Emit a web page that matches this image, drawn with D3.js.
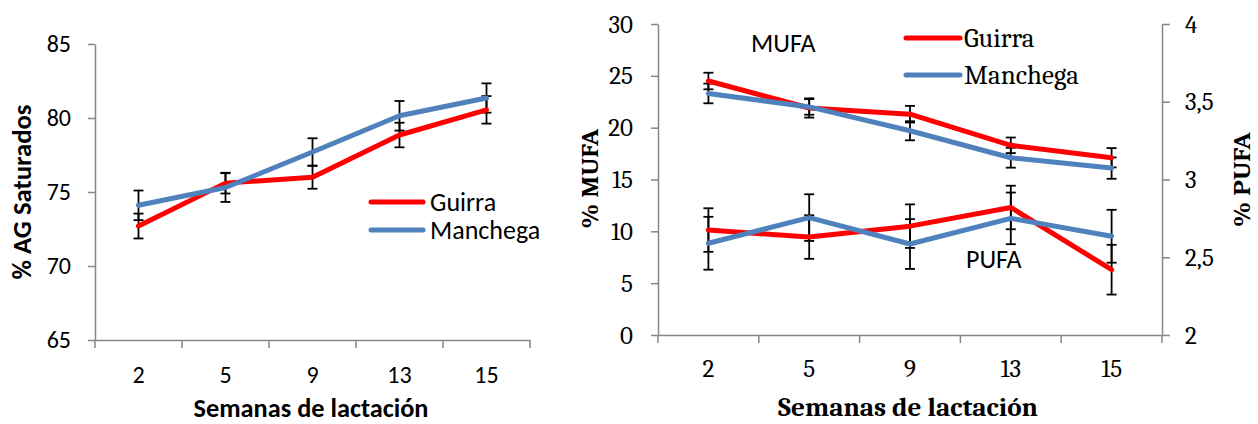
<!DOCTYPE html>
<html>
<head>
<meta charset="utf-8">
<script src="https://cdn.jsdelivr.net/npm/d3@7"></script>
<style>
  body { margin: 0; background: #fff; }
  .sans { font-family: Carlito, Lato, "Open Sans", sans-serif; }
  .serif { font-family: Caladea, "Liberation Serif", serif; }
</style>
</head>
<body>
<svg id="chart" width="1258" height="424"></svg>
<script>
// weeks of lactation
var weeks = ["2", "5", "9", "13", "15"];

// left panel: % AG saturados
var satGuirra = [72.7, 75.6, 76.0, 78.85, 80.55];
var satGuirraErr = [0.84, 0.7, 0.78, 0.83, 0.93];
var satManchega = [74.1, 75.3, 77.7, 80.15, 81.35];
var satManchegaErr = [1.0, 0.97, 0.93, 1.0, 0.99];
var satTicks = [65, 70, 75, 80, 85];

// right panel: MUFA (left axis) and PUFA (right axis)
var mufaGuirra = [24.5, 21.9, 21.3, 18.3, 17.1];
var mufaGuirraErr = [0.8, 0.93, 0.8, 0.75, 0.93];
var mufaManchega = [23.3, 22.0, 19.7, 17.1, 16.1];
var mufaManchegaErr = [0.95, 0.75, 0.92, 0.96, 1.03];
var pufaGuirra = [2.675, 2.63, 2.70, 2.82, 2.42];
var pufaGuirraErr = [0.14, 0.14, 0.14, 0.14, 0.16];
var pufaManchega = [2.59, 2.755, 2.585, 2.75, 2.635];
var pufaManchegaErr = [0.17, 0.15, 0.16, 0.166, 0.17];
var mufaTicks = [0, 5, 10, 15, 20, 25, 30];
var pufaTicks = [2, 2.5, 3, 3.5, 4];

var seriesNames = ["Guirra", "Manchega"];
var colors = { Guirra: "#ff0000", Manchega: "#4f81bd" };
var axisColor = "#868686";

var svg = d3.select("#chart");
svg.append("rect").attr("width", 1258).attr("height", 424).attr("fill", "#fff");

function styleAxis(g) {
  g.select(".domain").attr("stroke", axisColor).attr("stroke-width", 1.5);
  g.selectAll(".tick line").attr("stroke", axisColor).attr("stroke-width", 1.5);
  g.selectAll(".tick text").attr("fill", "#000");
}

// x axis: labels at band centres, tick marks at band edges (Excel style)
function drawXAxis(g, x, y0, labelY, cls, fontSize) {
  var ax = g.append("g")
    .attr("transform", "translate(0," + y0 + ")")
    .call(d3.axisBottom(x).tickSize(0).tickSizeOuter(0));
  styleAxis(ax);
  ax.selectAll(".tick text")
    .attr("class", cls)
    .attr("y", labelY)
    .attr("dy", 0)
    .style("font-size", fontSize + "px");
  var edges = x.domain().map(function (d) { return x(d); });
  edges.push(x.range()[1]);
  ax.selectAll("line.edge")
    .data(edges)
    .enter().append("line")
    .attr("class", "edge")
    .attr("x1", function (d) { return d; })
    .attr("x2", function (d) { return d; })
    .attr("y1", 0)
    .attr("y2", 8)
    .attr("stroke", axisColor)
    .attr("stroke-width", 1.5);
}

function drawErrors(g, x, y, vals, errs) {
  var bars = g.append("g").attr("stroke", "#000").attr("stroke-width", 1.8).attr("fill", "none");
  vals.forEach(function (v, i) {
    var cx = x(weeks[i]) + x.bandwidth() / 2;
    var top = y(v + errs[i]);
    var bot = y(v - errs[i]);
    bars.append("line").attr("x1", cx).attr("x2", cx).attr("y1", top).attr("y2", bot);
    bars.append("line").attr("x1", cx - 5).attr("x2", cx + 5).attr("y1", top).attr("y2", top);
    bars.append("line").attr("x1", cx - 5).attr("x2", cx + 5).attr("y1", bot).attr("y2", bot);
  });
}

function drawLine(g, x, y, vals, color) {
  var line = d3.line()
    .x(function (d, i) { return x(weeks[i]) + x.bandwidth() / 2; })
    .y(function (d) { return y(d); });
  g.append("path")
    .datum(vals)
    .attr("d", line)
    .attr("fill", "none")
    .attr("stroke", color)
    .attr("stroke-width", 5)
    .attr("stroke-linejoin", "round")
    .attr("stroke-linecap", "round");
}

function drawLegend(g, x0, x1, ys, textX, baseOff, cls, fontSize) {
  seriesNames.forEach(function (name, i) {
    g.append("line")
      .attr("x1", x0).attr("x2", x1)
      .attr("y1", ys[i]).attr("y2", ys[i])
      .attr("stroke", colors[name])
      .attr("stroke-width", 5)
      .attr("stroke-linecap", "round");
    g.append("text")
      .attr("class", cls)
      .attr("x", textX)
      .attr("y", ys[i] + baseOff)
      .style("font-size", fontSize + "px")
      .text(name);
  });
}

// ---------- left panel ----------
var left = svg.append("g");
var xL = d3.scaleBand().domain(weeks).range([95, 530]);
var yL = d3.scaleLinear().domain([65, 85]).range([340, 44]);

var yAxL = left.append("g")
  .attr("transform", "translate(95,0)")
  .call(d3.axisLeft(yL).tickValues(satTicks).tickSize(7).tickSizeOuter(0).tickPadding(17));
styleAxis(yAxL);
yAxL.selectAll(".tick text").attr("class", "sans").style("font-size", "24px");

drawXAxis(left, xL, 340, 43, "sans", 24);

drawErrors(left, xL, yL, satGuirra, satGuirraErr);
drawErrors(left, xL, yL, satManchega, satManchegaErr);
drawLine(left, xL, yL, satGuirra, colors.Guirra);
drawLine(left, xL, yL, satManchega, colors.Manchega);

drawLegend(left, 371, 423, [202, 230], 430, 9, "sans", 26);

left.append("text")
  .attr("class", "sans")
  .attr("transform", "translate(31,192) rotate(-90)")
  .attr("text-anchor", "middle")
  .attr("textLength", 175)
  .attr("lengthAdjust", "spacingAndGlyphs")
  .style("font-size", "26px")
  .style("font-weight", "bold")
  .text("% AG Saturados");

left.append("text")
  .attr("class", "sans")
  .attr("x", 311)
  .attr("y", 417)
  .attr("text-anchor", "middle")
  .attr("textLength", 235)
  .attr("lengthAdjust", "spacingAndGlyphs")
  .style("font-size", "26px")
  .style("font-weight", "bold")
  .text("Semanas de lactación");

// ---------- right panel ----------
var right = svg.append("g");
var xR = d3.scaleBand().domain(weeks).range([658, 1162]);
var yM = d3.scaleLinear().domain([0, 30]).range([335, 24]);
var yP = d3.scaleLinear().domain([2, 4]).range([335, 24]);

var yAxM = right.append("g")
  .attr("transform", "translate(658,0)")
  .call(d3.axisLeft(yM).tickValues(mufaTicks).tickSize(7).tickSizeOuter(0).tickPadding(18));
styleAxis(yAxM);
yAxM.selectAll(".tick text").attr("class", "serif").style("font-size", "25px");

var yAxP = right.append("g")
  .attr("transform", "translate(1162,0)")
  .call(d3.axisRight(yP).tickValues(pufaTicks).tickSize(8).tickSizeOuter(0).tickPadding(15)
    .tickFormat(function (d) { return String(d).replace(".", ","); }));
styleAxis(yAxP);
yAxP.selectAll(".tick text").attr("class", "serif").style("font-size", "25px");

drawXAxis(right, xR, 335, 42, "serif", 25);

drawErrors(right, xR, yM, mufaGuirra, mufaGuirraErr);
drawErrors(right, xR, yM, mufaManchega, mufaManchegaErr);
drawErrors(right, xR, yP, pufaGuirra, pufaGuirraErr);
drawErrors(right, xR, yP, pufaManchega, pufaManchegaErr);
drawLine(right, xR, yM, mufaGuirra, colors.Guirra);
drawLine(right, xR, yM, mufaManchega, colors.Manchega);
drawLine(right, xR, yP, pufaGuirra, colors.Guirra);
drawLine(right, xR, yP, pufaManchega, colors.Manchega);

drawLegend(right, 906, 960, [38, 75], 964, 9, "serif", 27);

right.append("text")
  .attr("class", "sans")
  .attr("x", 751).attr("y", 52)
  .style("font-size", "26px")
  .text("MUFA");

right.append("text")
  .attr("class", "sans")
  .attr("x", 966).attr("y", 268)
  .style("font-size", "26px")
  .text("PUFA");

right.append("text")
  .attr("class", "serif")
  .attr("transform", "translate(598,179) rotate(-90)")
  .attr("text-anchor", "middle")
  .attr("textLength", 100)
  .attr("lengthAdjust", "spacingAndGlyphs")
  .style("font-size", "25px")
  .style("font-weight", "bold")
  .text("% MUFA");

right.append("text")
  .attr("class", "serif")
  .attr("transform", "translate(1250,180) rotate(-90)")
  .attr("text-anchor", "middle")
  .attr("textLength", 95)
  .attr("lengthAdjust", "spacingAndGlyphs")
  .style("font-size", "25px")
  .style("font-weight", "bold")
  .text("% PUFA");

right.append("text")
  .attr("class", "serif")
  .attr("x", 908)
  .attr("y", 416)
  .attr("text-anchor", "middle")
  .attr("textLength", 260)
  .attr("lengthAdjust", "spacingAndGlyphs")
  .style("font-size", "27px")
  .style("font-weight", "bold")
  .text("Semanas de lactación");
</script>
</body>
</html>
